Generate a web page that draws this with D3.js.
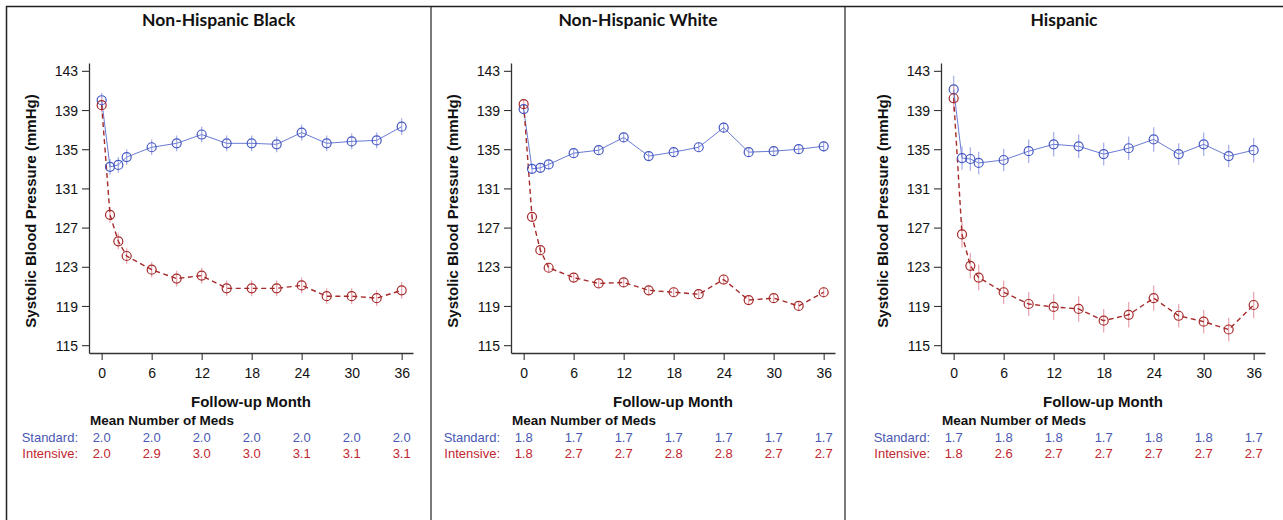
<!DOCTYPE html>
<html>
<head>
<meta charset="utf-8">
<script src="https://cdn.jsdelivr.net/npm/d3@7"></script>
<style>
  html, body { margin: 0; padding: 0; background: #fff; }
  svg { display: block; }
  text { font-family: "Liberation Sans", Arial, sans-serif; }
</style>
</head>
<body>
<svg id="chart" width="1283" height="520"></svg>
<script>
// ---------- DATA ----------
const months = [0, 1, 2, 3, 6, 9, 12, 15, 18, 21, 24, 27, 30, 33, 36];
const xTicks = [0, 6, 12, 18, 24, 30, 36];
const yTicks = [115, 119, 123, 127, 131, 135, 139, 143];
const medMonths = [0, 6, 12, 18, 24, 30, 36];

const panelTitles = ["Non-Hispanic Black", "Non-Hispanic White", "Hispanic"];
const seriesNames = ["Standard", "Intensive"];

const blackStandard  = [140.0, 133.2, 133.4, 134.2, 135.2, 135.6, 136.5, 135.6, 135.6, 135.5, 136.7, 135.6, 135.8, 135.9, 137.3];
const blackIntensive = [139.5, 128.3, 125.6, 124.1, 122.7, 121.8, 122.1, 120.8, 120.8, 120.8, 121.1, 120.0, 120.0, 119.8, 120.6];
const blackStdErr    = [0.75, 0.8, 0.8, 0.8, 0.8, 0.8, 0.8, 0.8, 0.8, 0.8, 0.8, 0.8, 0.8, 0.8, 0.85];
const blackIntErr    = [0.75, 0.8, 0.8, 0.8, 0.8, 0.8, 0.8, 0.8, 0.8, 0.8, 0.8, 0.8, 0.8, 0.8, 0.85];

const whiteStandard  = [139.1, 133.0, 133.1, 133.45, 134.6, 134.9, 136.2, 134.3, 134.7, 135.2, 137.2, 134.7, 134.8, 135.0, 135.3];
const whiteIntensive = [139.6, 128.1, 124.7, 122.9, 121.9, 121.3, 121.4, 120.6, 120.4, 120.2, 121.7, 119.6, 119.8, 119.0, 120.4];
const whiteStdErr    = [0.5, 0.5, 0.5, 0.5, 0.5, 0.5, 0.5, 0.5, 0.5, 0.5, 0.55, 0.5, 0.5, 0.5, 0.55];
const whiteIntErr    = [0.5, 0.5, 0.5, 0.5, 0.5, 0.5, 0.5, 0.5, 0.5, 0.5, 0.55, 0.5, 0.5, 0.5, 0.55];

const hispStandard   = [141.1, 134.1, 134.0, 133.6, 133.9, 134.8, 135.5, 135.3, 134.5, 135.1, 136.0, 134.5, 135.5, 134.3, 134.9];
const hispIntensive  = [140.2, 126.3, 123.1, 121.9, 120.4, 119.2, 118.9, 118.7, 117.5, 118.1, 119.8, 118.0, 117.4, 116.6, 119.1];
const hispStdErr     = [1.4, 1.2, 1.2, 1.15, 1.15, 1.2, 1.25, 1.2, 1.15, 1.2, 1.25, 1.1, 1.2, 1.15, 1.25];
const hispIntErr     = [1.3, 1.35, 1.3, 1.3, 1.2, 1.2, 1.3, 1.3, 1.2, 1.3, 1.3, 1.2, 1.2, 1.2, 1.35];

const blackMedsStd  = ["2.0", "2.0", "2.0", "2.0", "2.0", "2.0", "2.0"];
const blackMedsInt  = ["2.0", "2.9", "3.0", "3.0", "3.1", "3.1", "3.1"];
const whiteMedsStd  = ["1.8", "1.7", "1.7", "1.7", "1.7", "1.7", "1.7"];
const whiteMedsInt  = ["1.8", "2.7", "2.7", "2.8", "2.8", "2.7", "2.7"];
const hispMedsStd   = ["1.7", "1.8", "1.8", "1.7", "1.8", "1.8", "1.7"];
const hispMedsInt   = ["1.8", "2.6", "2.7", "2.7", "2.7", "2.7", "2.7"];

// ---------- BUILD ----------
const panelData = [
  { title: panelTitles[0], std: blackStandard, int: blackIntensive, stdErr: blackStdErr, intErr: blackIntErr, medsStd: blackMedsStd, medsInt: blackMedsInt },
  { title: panelTitles[1], std: whiteStandard, int: whiteIntensive, stdErr: whiteStdErr, intErr: whiteIntErr, medsStd: whiteMedsStd, medsInt: whiteMedsInt },
  { title: panelTitles[2], std: hispStandard,  int: hispIntensive,  stdErr: hispStdErr,  intErr: hispIntErr,  medsStd: hispMedsStd,  medsInt: hispMedsInt }
];

// layout (positions only)
const layout = [
  { cellX0: 6.5, cellX1: 431, axisX0: 89,  axisX1: 413 },
  { cellX0: 431, cellX1: 845, axisX0: 511, axisX1: 835 },
  { cellX0: 845, cellX1: 1283, axisX0: 941, axisX1: 1265 }
];
const plotTop = 63, plotBottom = 353;

const colors = {
  stdLine: "#6a7bd3", stdMarker: "#4557c0", stdErr: "#aab2ea", stdText: "#4a58b4",
  intLine: "#a52a2a", intMarker: "#a52a2a", intErr: "#eaa9b1", intText: "#c1272f",
  axis: "#333", border: "#222"
};

const svg = d3.select("#chart");

// cell borders
svg.append("line").attr("x1", 6).attr("x2", 1283).attr("y1", 6.5).attr("y2", 6.5)
  .attr("stroke", colors.border).attr("stroke-width", 1.5);
layout.forEach((L, i) => {
  svg.append("line").attr("x1", L.cellX0).attr("x2", L.cellX0).attr("y1", 6).attr("y2", 520)
    .attr("stroke", colors.border).attr("stroke-width", i === 0 ? 1.5 : 1.2);
});

panelData.forEach((P, i) => {
  const L = layout[i];
  const x = d3.scaleLinear().domain([-1.52, 37.36]).range([L.axisX0, L.axisX1]);
  const y = d3.scaleLinear().domain([114.2, 143.8]).range([plotBottom, plotTop]);
  const g = svg.append("g");

  // title
  const cx = (L.cellX0 + L.cellX1) / 2;
  g.append("text").attr("x", cx).attr("y", 26).attr("text-anchor", "middle")
    .style("font-family", "Lato, 'Open Sans', sans-serif").style("font-weight", "bold")
    .style("font-size", "17.5px").attr("fill", "#111").text(P.title);

  // axes
  const yAxis = g.append("g").attr("transform", `translate(${L.axisX0},0)`)
    .call(d3.axisLeft(y).tickValues(yTicks).tickSize(7).tickSizeOuter(0).tickPadding(4));
  const xAxis = g.append("g").attr("transform", `translate(0,${plotBottom})`)
    .call(d3.axisBottom(x).tickValues(xTicks).tickSize(7).tickSizeOuter(0).tickPadding(8));
  [yAxis, xAxis].forEach(a => {
    a.selectAll("path").attr("stroke", colors.axis).attr("stroke-width", 1.3);
    a.selectAll("line").attr("stroke", colors.axis).attr("stroke-width", 1.1);
    a.selectAll("text").style("font-size", "14px").attr("fill", "#111")
      .style("font-family", "'Liberation Sans', Arial, sans-serif");
  });
  yAxis.selectAll("text").attr("dy", "0.36em");

  // axis labels
  g.append("text")
    .attr("transform", `translate(${L.axisX0 - 53},${(plotTop + plotBottom) / 2 + 3}) rotate(-90)`)
    .attr("text-anchor", "middle").style("font-weight", "bold").style("font-size", "15px")
    .attr("fill", "#111").text("Systolic Blood Pressure (mmHg)");
  g.append("text").attr("x", (L.axisX0 + L.axisX1) / 2).attr("y", 407)
    .attr("text-anchor", "middle").style("font-weight", "bold").style("font-size", "15px")
    .attr("fill", "#111").text("Follow-up Month");

  // meds table
  g.append("text").attr("x", L.axisX0 + 1).attr("y", 425)
    .style("font-weight", "bold").style("font-size", "13.5px").attr("fill", "#111")
    .text("Mean Number of Meds");
  const rows = [
    { name: seriesNames[0], vals: P.medsStd, color: colors.stdText, yy: 442 },
    { name: seriesNames[1], vals: P.medsInt, color: colors.intText, yy: 458 }
  ];
  rows.forEach(r => {
    g.append("text").attr("x", L.axisX0 - 11).attr("y", r.yy).attr("text-anchor", "end")
      .style("font-size", "13px").attr("fill", r.color).text(r.name + ":");
    g.selectAll(null).data(medMonths).enter().append("text")
      .attr("x", d => x(d)).attr("y", r.yy).attr("text-anchor", "middle")
      .style("font-size", "13px").attr("fill", r.color)
      .text((d, j) => r.vals[j]);
  });

  // series
  const series = [
    { vals: P.std, err: P.stdErr, line: colors.stdLine, marker: colors.stdMarker, errC: colors.stdErr, dash: null, lw: 1 },
    { vals: P.int, err: P.intErr, line: colors.intLine, marker: colors.intMarker, errC: colors.intErr, dash: "5,3.5", lw: 1.4 }
  ];
  series.forEach(s => {
    g.selectAll(null).data(months).enter().append("line")
      .attr("x1", d => x(d)).attr("x2", d => x(d))
      .attr("y1", (d, j) => y(s.vals[j] - s.err[j])).attr("y2", (d, j) => y(s.vals[j] + s.err[j]))
      .attr("stroke", s.errC).attr("stroke-width", 1.3);
  });
  series.forEach(s => {
    const line = d3.line().x(d => x(d[0])).y(d => y(d[1]));
    g.append("path").datum(months.map((m, j) => [m, s.vals[j]]))
      .attr("d", line).attr("fill", "none").attr("stroke", s.line).attr("stroke-width", s.lw)
      .attr("stroke-dasharray", s.dash);
  });
  series.forEach(s => {
    g.selectAll(null).data(months).enter().append("circle")
      .attr("cx", d => x(d)).attr("cy", (d, j) => y(s.vals[j])).attr("r", 4.5)
      .attr("fill", "none").attr("stroke", s.marker).attr("stroke-width", 1.2);
  });
});
</script>
</body>
</html>
